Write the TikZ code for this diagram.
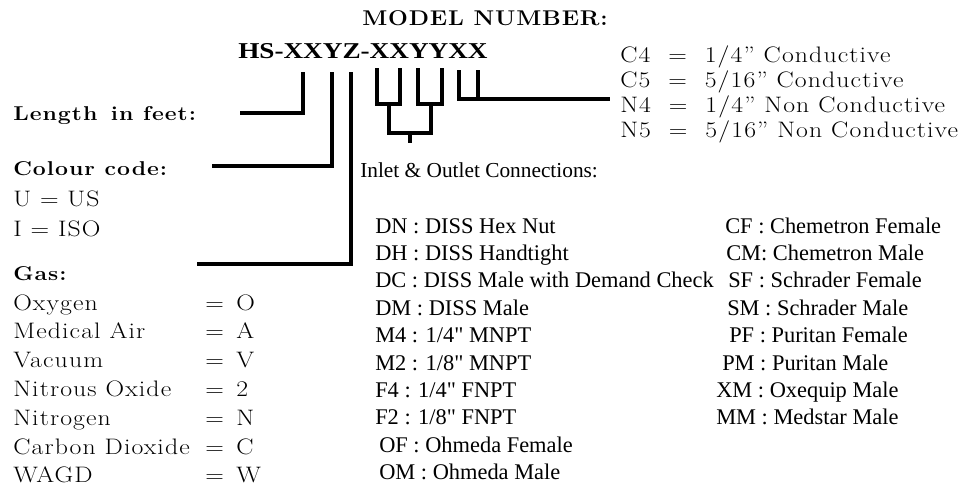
\documentclass[tikz,border=0pt]{standalone}
\usepackage{fontspec}
\newfontfamily\labelfont[FakeStretch=1.15,LetterSpace=5]{Latin Modern Roman}
\newfontfamily\titlefont[FakeStretch=1.1,LetterSpace=4]{Latin Modern Roman}
\newfontfamily\codefont[FakeStretch=1.2]{Liberation Serif}
\newfontfamily\listfont{Liberation Serif}
\begin{document}
\begin{tikzpicture}[x=0.75pt,y=-0.75pt,
  bar/.style={line width=3.2pt},
  lab/.style={anchor=base west,inner sep=0pt,font=\labelfont\fontsize{16.8}{19}\selectfont},
  head/.style={lab,font=\labelfont\bfseries\fontsize{15}{18}\selectfont},
  conn/.style={anchor=base west,inner sep=0pt,font=\listfont\fontsize{16.8}{19}\selectfont}]
\useasboundingbox (0,0) rectangle (961,493);
% model number
\node[lab,font=\titlefont\bfseries\fontsize{16}{20}\selectfont] (title) at (362,25) {MODEL NUMBER:};
\node[anchor=base west,inner sep=0pt,font=\codefont\bfseries\fontsize{17}{20}\selectfont] (code) at (238,58) {HS-XXYZ-XXYYXX};
% hose type
\node[lab] (cfour) at (620,62) {C4\hspace{0.8em}=\hspace{0.8em}1/4” Conductive};
\node[lab] (cfive) at (620,87) {C5\hspace{0.8em}=\hspace{0.8em}5/16” Conductive};
\node[lab] (nfour) at (620,112) {N4\hspace{0.8em}=\hspace{0.8em}1/4” Non Conductive};
\node[lab] (nfive) at (620,137) {N5\hspace{0.8em}=\hspace{0.8em}5/16” Non Conductive};
% left labels
\node[head] (len) at (13,120) {Length\hspace{0.2em} in feet:};
\node[head] (col) at (13,175) {Colour code:};
\node[lab] (us) at (13,206) {U = US};
\node[lab] (iso) at (13,236) {I = ISO};
\node[head] (gas) at (13,280) {Gas:};
\foreach \name/\val [count=\i from 0] in {Oxygen/O,Medical Air/A,Vacuum/V,Nitrous Oxide/2,Nitrogen/N,Carbon Dioxide/C,WAGD/W}
{
  \node[lab] (gas\i) at (13,310+28.8*\i) {\name};
  \node[lab] (eq\i) at (205,310+28.8*\i) {=};
  \node[lab] (val\i) at (236,310+28.8*\i) {\val};
}
% connections
\node[conn,font=\listfont\fontsize{16}{19}\selectfont] (inout) at (360,177) {Inlet \& Outlet Connections:};
\foreach \txt/\xx [count=\i from 0] in {{DN : DISS Hex Nut}/375,{DH : DISS Handtight}/375,{DC : DISS Male with Demand Check}/375,{DM : DISS Male}/375,{M4 : 1/4" MNPT}/375,{M2 : 1/8" MNPT}/375,{F4 : 1/4" FNPT}/375,{F2 : 1/8" FNPT}/375,{OF : Ohmeda Female}/379,{OM : Ohmeda Male}/379}
  \node[conn] (d\i) at (\xx,233+27.4*\i) {\txt};
\foreach \txt/\xx [count=\i from 0] in {{CF : Chemetron Female}/725,{CM: Chemetron Male}/726,{SF : Schrader Female}/728,{SM : Schrader Male}/727,{PF : Puritan Female}/729,{PM : Puritan Male}/722,{XM : Oxequip Male}/716,{MM : Medstar Male}/716}
  \node[conn] (c\i) at (\xx,233+27.4*\i) {\txt};
% brackets
\coordinate (lenA) at (240,113); \coordinate (lenB) at (303,72);
\coordinate (colA) at (212,166); \coordinate (colB) at (332,72);
\coordinate (gasA) at (197,264); \coordinate (gasB) at (351,72);
\draw[bar] (lenA) -| (lenB);
\draw[bar] (colA) -| (colB);
\draw[bar] (gasA) -| (gasB);
\draw[bar] (377,68) -- (377,104) -- (400,104) -- (400,68);
\draw[bar] (418,68) -- (418,104) -- (442,104) -- (442,68);
\draw[bar] (389,104) -- (389,133) -- (431,133) -- (431,104);
\draw[bar] (410,133) -- (410,143);
\coordinate (hoseA) at (459,70); \coordinate (hoseB) at (478,70);
\coordinate (hoseC) at (610,99);
\draw[bar] (hoseA) |- (hoseC);
\draw[bar] (hoseB) -- (478,99);
\end{tikzpicture}
\end{document}
